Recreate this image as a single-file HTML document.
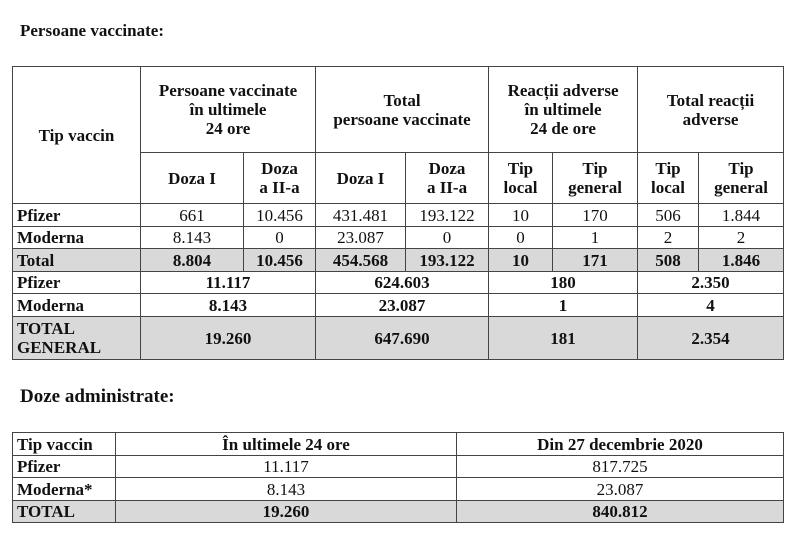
<!DOCTYPE html>
<html><head><meta charset="utf-8"><style>
body{margin:0;width:800px;height:546px;background:#fff;position:relative;font-family:"Liberation Serif",serif;color:#111;overflow:hidden}
.t{position:absolute;font-weight:bold}
table{position:absolute;border-collapse:collapse;table-layout:fixed}
td{border:1.5px solid #444;text-align:center;padding:0;font-size:17px;line-height:19px;overflow:hidden;white-space:nowrap}
td.l{text-align:left;padding-left:4px}
.b{font-weight:bold}
.g{background:#d9d9d9}
</style></head><body>
<div class="t" style="left:20px;top:21px;font-size:17px">Persoane vaccinate:</div>
<table style="left:12px;top:66px;width:771px">
<colgroup><col style="width:128px"><col style="width:103px"><col style="width:72px"><col style="width:90px"><col style="width:83px"><col style="width:64px"><col style="width:85px"><col style="width:61px"><col style="width:85px"></colgroup>
<tr style="height:86px"><td rowspan="2" class="b">Tip vaccin</td><td colspan="2" class="b">Persoane vaccinate<br>în ultimele<br>24 ore</td><td colspan="2" class="b">Total<br>persoane vaccinate</td><td colspan="2" class="b">Reacții adverse<br>în ultimele<br>24 de ore</td><td colspan="2" class="b">Total reacții<br>adverse</td></tr>
<tr style="height:51px"><td class="b">Doza I</td><td class="b">Doza<br>a II-a</td><td class="b">Doza I</td><td class="b">Doza<br>a II-a</td><td class="b">Tip<br>local</td><td class="b">Tip<br>general</td><td class="b">Tip<br>local</td><td class="b">Tip<br>general</td></tr>
<tr style="height:23px"><td class="l b">Pfizer</td><td>661</td><td>10.456</td><td>431.481</td><td>193.122</td><td>10</td><td>170</td><td>506</td><td>1.844</td></tr>
<tr style="height:22px"><td class="l b">Moderna</td><td>8.143</td><td>0</td><td>23.087</td><td>0</td><td>0</td><td>1</td><td>2</td><td>2</td></tr>
<tr style="height:23px" class="g b"><td class="l">Total</td><td>8.804</td><td>10.456</td><td>454.568</td><td>193.122</td><td>10</td><td>171</td><td>508</td><td>1.846</td></tr>
<tr style="height:22px" class="b"><td class="l">Pfizer</td><td colspan="2">11.117</td><td colspan="2">624.603</td><td colspan="2">180</td><td colspan="2">2.350</td></tr>
<tr style="height:23px" class="b"><td class="l">Moderna</td><td colspan="2">8.143</td><td colspan="2">23.087</td><td colspan="2">1</td><td colspan="2">4</td></tr>
<tr style="height:43px" class="g b"><td class="l">TOTAL<br>GENERAL</td><td colspan="2">19.260</td><td colspan="2">647.690</td><td colspan="2">181</td><td colspan="2">2.354</td></tr>
</table>
<div class="t" style="left:20px;top:386px;font-size:19px">Doze administrate:</div>
<table style="left:12px;top:432px;width:771px">
<colgroup><col style="width:103px"><col style="width:341px"><col style="width:327px"></colgroup>
<tr style="height:23px" class="b"><td class="l">Tip vaccin</td><td>În ultimele 24 ore</td><td>Din 27 decembrie 2020</td></tr>
<tr style="height:22px"><td class="l b">Pfizer</td><td>11.117</td><td>817.725</td></tr>
<tr style="height:23px"><td class="l b">Moderna*</td><td>8.143</td><td>23.087</td></tr>
<tr style="height:22px" class="g b"><td class="l">TOTAL</td><td>19.260</td><td>840.812</td></tr>
</table>
</body></html>
